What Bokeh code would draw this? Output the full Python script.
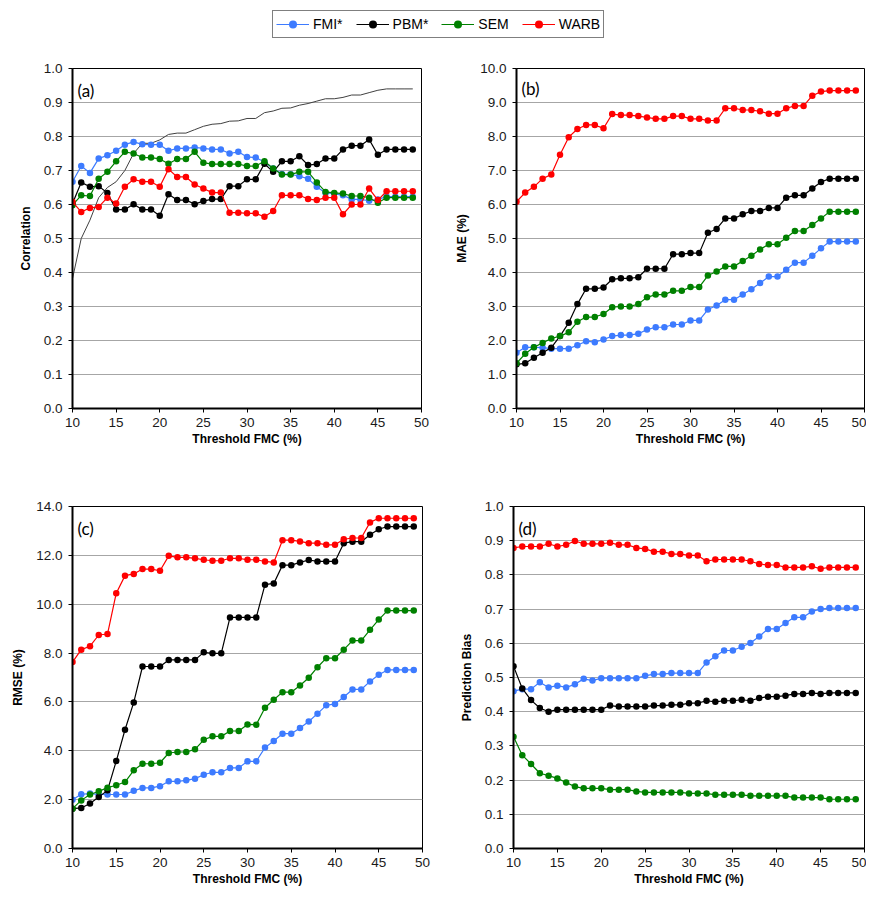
from bokeh.plotting import figure
from bokeh.layouts import column, row
from bokeh.models import (Legend, LegendItem, Label, Range1d, FixedTicker,
                          PrintfTickFormatter, ColumnDataSource)
from bokeh.embed import file_html
from bokeh.resources import INLINE

thresholds = list(range(10, 50))
series_names = ["FMI*", "PBM*", "SEM", "WARB"]
series_colors = ["#3D7BFF", "#000000", "#008000", "#FF0000"]

corr_fmi = [0.667,0.713,0.693,0.735,0.745,0.758,0.776,0.784,0.777,0.776,
            0.776,0.758,0.765,0.765,0.768,0.765,0.762,0.762,0.750,0.755,
            0.740,0.738,0.725,0.706,0.690,0.689,0.683,0.676,0.652,0.634,
            0.632,0.627,0.615,0.615,0.611,0.615,0.623,0.623,0.623,0.623]
corr_pbm = [0.603,0.665,0.652,0.654,0.634,0.585,0.585,0.601,0.585,0.585,
            0.567,0.630,0.613,0.613,0.601,0.610,0.616,0.616,0.654,0.654,
            0.674,0.674,0.720,0.696,0.727,0.727,0.742,0.716,0.719,0.735,
            0.735,0.762,0.773,0.773,0.791,0.746,0.762,0.762,0.762,0.762]
corr_sem = [0.598,0.627,0.625,0.676,0.696,0.727,0.755,0.750,0.738,0.738,
            0.734,0.720,0.734,0.734,0.755,0.723,0.719,0.719,0.719,0.719,
            0.713,0.713,0.727,0.706,0.688,0.688,0.696,0.696,0.665,0.637,
            0.634,0.632,0.625,0.625,0.620,0.605,0.620,0.620,0.620,0.620]
corr_warb = [0.608,0.578,0.590,0.593,0.620,0.603,0.652,0.674,0.667,0.667,
             0.652,0.704,0.681,0.681,0.659,0.647,0.635,0.635,0.576,0.576,
             0.574,0.574,0.564,0.581,0.627,0.627,0.627,0.616,0.613,0.620,
             0.620,0.571,0.600,0.600,0.647,0.613,0.639,0.639,0.639,0.639]
corr_ref = [0.382,0.500,0.554,0.620,0.650,0.667,0.700,0.750,0.780,0.780,
            0.790,0.806,0.810,0.810,0.820,0.830,0.836,0.838,0.845,0.846,
            0.853,0.853,0.870,0.875,0.883,0.884,0.892,0.897,0.904,0.911,
            0.911,0.915,0.922,0.922,0.929,0.936,0.940,0.940,0.940,0.940]

mae_fmi = [1.64,1.80,1.80,1.79,1.76,1.76,1.76,1.86,1.98,1.95,
           2.03,2.13,2.16,2.16,2.20,2.32,2.39,2.39,2.47,2.47,
           2.59,2.59,2.91,3.03,3.20,3.20,3.35,3.51,3.69,3.88,
           3.88,4.08,4.29,4.29,4.49,4.71,4.91,4.91,4.91,4.91]
mae_pbm = [1.30,1.33,1.49,1.64,1.79,2.13,2.52,3.07,3.52,3.52,
           3.56,3.80,3.83,3.83,3.86,4.11,4.11,4.11,4.54,4.54,
           4.57,4.57,5.17,5.28,5.59,5.59,5.71,5.81,5.81,5.90,
           5.90,6.20,6.27,6.27,6.47,6.66,6.76,6.76,6.76,6.76]
mae_sem = [1.33,1.61,1.80,1.93,2.06,2.13,2.24,2.55,2.69,2.69,
           2.78,2.98,3.00,3.00,3.07,3.27,3.35,3.35,3.46,3.46,
           3.57,3.57,3.91,4.03,4.18,4.18,4.34,4.49,4.68,4.83,
           4.83,5.02,5.22,5.22,5.40,5.59,5.79,5.79,5.79,5.79]
mae_warb = [6.08,6.35,6.52,6.76,6.88,7.46,7.98,8.22,8.34,8.34,
            8.24,8.66,8.63,8.63,8.60,8.56,8.52,8.52,8.60,8.60,
            8.52,8.52,8.47,8.47,8.83,8.83,8.78,8.78,8.74,8.67,
            8.67,8.83,8.90,8.90,9.20,9.32,9.35,9.35,9.35,9.35]

rmse_fmi = [2.00,2.22,2.25,2.21,2.21,2.21,2.21,2.36,2.48,2.48,
            2.55,2.75,2.75,2.79,2.86,3.02,3.12,3.12,3.30,3.30,
            3.57,3.57,4.13,4.40,4.70,4.70,4.93,5.20,5.52,5.86,
            5.92,6.20,6.51,6.51,6.84,7.11,7.31,7.31,7.31,7.31]
rmse_pbm = [1.63,1.66,1.84,2.11,2.38,3.58,4.86,5.98,7.45,7.45,
            7.45,7.72,7.72,7.72,7.72,8.03,7.99,7.99,9.46,9.46,
            9.46,9.46,10.80,10.85,11.60,11.60,11.71,11.81,11.75,11.75,
            11.75,12.50,12.56,12.56,12.84,13.07,13.18,13.18,13.18,13.18]
rmse_sem = [1.63,1.97,2.21,2.34,2.49,2.59,2.72,3.20,3.47,3.47,
            3.51,3.91,3.95,3.95,4.06,4.45,4.59,4.59,4.81,4.81,
            5.08,5.07,5.76,6.09,6.40,6.40,6.67,6.99,7.42,7.79,
            7.79,8.14,8.51,8.51,8.95,9.37,9.74,9.74,9.74,9.74]
rmse_warb = [7.63,8.14,8.28,8.74,8.78,10.45,11.17,11.24,11.44,11.44,
             11.37,11.98,11.92,11.92,11.88,11.82,11.78,11.78,11.88,11.88,
             11.82,11.82,11.75,11.71,12.62,12.62,12.57,12.50,12.50,12.43,
             12.43,12.66,12.71,12.71,13.35,13.52,13.52,13.52,13.52,13.52]

bias_fmi = [0.460,0.466,0.466,0.486,0.471,0.476,0.471,0.480,0.496,0.491,
            0.498,0.498,0.498,0.498,0.498,0.505,0.510,0.510,0.513,0.513,
            0.513,0.513,0.544,0.562,0.579,0.579,0.590,0.601,0.620,0.642,
            0.642,0.659,0.676,0.676,0.693,0.700,0.703,0.703,0.703,0.703]
bias_pbm = [0.533,0.468,0.434,0.411,0.400,0.406,0.406,0.406,0.406,0.406,
            0.406,0.418,0.415,0.415,0.415,0.415,0.418,0.418,0.420,0.420,
            0.425,0.425,0.432,0.429,0.432,0.432,0.435,0.432,0.440,0.444,
            0.444,0.447,0.452,0.452,0.455,0.452,0.455,0.455,0.455,0.455]
bias_sem = [0.327,0.273,0.247,0.220,0.213,0.205,0.193,0.181,0.176,0.176,
            0.176,0.172,0.172,0.172,0.167,0.164,0.164,0.164,0.164,0.164,
            0.161,0.161,0.161,0.157,0.157,0.157,0.157,0.154,0.154,0.154,
            0.154,0.154,0.149,0.149,0.149,0.149,0.144,0.144,0.144,0.144]
bias_warb = [0.879,0.883,0.883,0.883,0.891,0.883,0.888,0.899,0.891,0.891,
             0.891,0.894,0.888,0.888,0.879,0.876,0.868,0.868,0.861,0.861,
             0.857,0.857,0.840,0.845,0.845,0.845,0.845,0.840,0.832,0.829,
             0.829,0.822,0.822,0.822,0.825,0.818,0.822,0.822,0.822,0.822]

x_ticks = [10, 15, 20, 25, 30, 35, 40, 45, 50]
FONT = "Liberation Sans"
colors = dict(zip(series_names, series_colors))


def make_panel(w, h, left, right, top, bottom, ymax, ystep, ylabel, tag):
    p = figure(width=w, height=h, x_range=Range1d(10, 50), y_range=Range1d(0, ymax),
               output_backend="svg", toolbar_location=None,
               min_border_left=left, min_border_right=right,
               min_border_top=top, min_border_bottom=bottom,
               background_fill_color="white", border_fill_color="white")
    p.outline_line_color = "black"
    p.outline_line_width = 1
    p.xgrid.visible = False
    p.ygrid.grid_line_color = "#A6A6A6"
    p.ygrid.grid_line_width = 1
    n = int(round(ymax / ystep))
    p.yaxis.ticker = FixedTicker(ticks=[round(i * ystep, 3) for i in range(n + 1)])
    p.yaxis.formatter = PrintfTickFormatter(format="%.1f")
    p.xaxis.ticker = FixedTicker(ticks=x_ticks)
    for ax in (p.xaxis[0], p.yaxis[0]):
        ax.axis_line_width = 2
        ax.axis_line_color = "black"
        ax.major_tick_line_color = "black"
        ax.major_tick_in = 0
        ax.major_tick_out = 4
        ax.minor_tick_line_color = None
        ax.major_label_text_font = FONT
        ax.major_label_text_font_size = "13.5px"
        ax.major_label_text_color = "#1a1a1a"
        ax.axis_label_text_font = FONT
        ax.axis_label_text_font_size = "12px"
        ax.axis_label_text_font_style = "bold"
        ax.axis_label_text_color = "black"
    p.xaxis.axis_label = "Threshold FMC (%)"
    p.xaxis.axis_label_standoff = 2
    p.xaxis.major_label_standoff = 5
    p.yaxis.axis_label = ylabel
    p.yaxis.axis_label_standoff = 8
    p.yaxis.major_label_standoff = 6
    p.add_layout(Label(x=5, y=h - top - bottom - 32, x_units="screen", y_units="screen",
                       text=tag, text_font="Lato", text_font_size="17px",
                       text_color="black"))
    return p


def add_series(p, ys, color):
    src = ColumnDataSource(dict(x=thresholds, y=ys))
    p.line("x", "y", source=src, line_color=color, line_width=1.2)
    p.scatter("x", "y", source=src, size=6.5, fill_color=color,
              line_color=color, line_width=0)


pa = make_panel(448, 430, 72, 27, 12, 78, 1.0, 0.1, "Correlation", "(a)")
pa.line(thresholds, corr_ref, line_color="#404040", line_width=1)
for ys, name in zip([corr_fmi, corr_pbm, corr_sem, corr_warb], series_names):
    add_series(pa, ys, colors[name])

pb = make_panel(418, 430, 68, 2, 10, 78, 10.0, 1.0, "MAE (%)", "(b)")
for ys, name in zip([mae_fmi, mae_pbm, mae_sem, mae_warb], series_names):
    add_series(pb, ys, colors[name])

pc = make_panel(448, 402, 72, 26, 20, 40, 14.0, 2.0, "RMSE (%)", "(c)")
for ys, name in zip([rmse_fmi, rmse_pbm, rmse_sem, rmse_warb], series_names):
    add_series(pc, ys, colors[name])

pd_ = make_panel(418, 402, 65, 2, 20, 40, 1.0, 0.1, "Prediction Bias", "(d)")
for ys, name in zip([bias_fmi, bias_pbm, bias_sem, bias_warb], series_names):
    add_series(pd_, ys, colors[name])

# legend strip
pl = figure(width=866, height=56, x_range=Range1d(0, 1), y_range=Range1d(0, 1),
            x_axis_type=None, y_axis_type=None, output_backend="svg",
            toolbar_location=None, min_border=0)
pl.outline_line_color = None
pl.grid.visible = False
items = []
for name in series_names:
    src = ColumnDataSource(dict(x=[-5.0], y=[-5.0]))
    r1 = pl.line("x", "y", source=src, line_color=colors[name], line_width=1.2)
    r2 = pl.scatter("x", "y", source=src, size=6.5, fill_color=colors[name],
                    line_color=colors[name], line_width=0)
    items.append(LegendItem(label=name, renderers=[r1, r2]))
leg = Legend(items=items, orientation="horizontal", location=(272, 18),
             label_text_font=FONT, label_text_font_size="14px",
             label_text_color="black",
             glyph_width=33, glyph_height=20, label_height=20, label_standoff=4,
             spacing=13, padding=3, margin=0,
             border_line_color="black", border_line_width=1)
pl.add_layout(leg, "center")

layout = column(pl, row(pa, pb), row(pc, pd_))

html = file_html(layout, INLINE)
open("out.html", "w").write(html)
